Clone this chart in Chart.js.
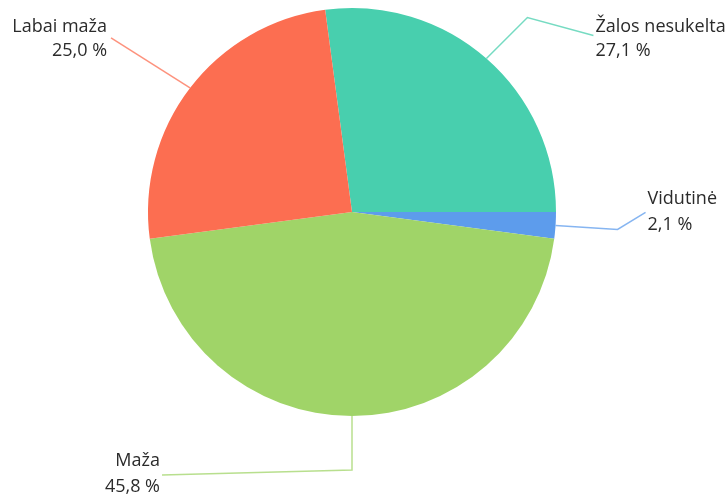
<!DOCTYPE html>
<html><head><meta charset="utf-8">
<script src="https://cdn.jsdelivr.net/npm/chart.js@4/dist/chart.umd.min.js"></script>
<style>html,body{margin:0;padding:0;background:#fff}#wrap{width:728px;height:496px}</style>
</head><body><div id="wrap"><canvas id="c" width="728" height="496"></canvas></div>
<script>
const categories = ["Žalos nesukelta", "Vidutinė", "Maža", "Labai maža"];
const values = [27.1, 2.1, 45.8, 25.0];
const valueLabels = ["27,1 %", "2,1 %", "45,8 %", "25,0 %"];
const colors = ["#48CFAE", "#5D9CEC", "#A0D468", "#FC6E51"];

// leader styling: [elbow dx, dy, end dx, dy, align, text gap, line1 baseline dy, line2 baseline dy]
const leaders = [
  [41, -41, 66, 18, "left", 2, -4, 20],
  [62, 4, 28, -17, "left", 2, -8, 18],
  [0, 54, -190, 5, "right", 2, -9, 17],
  [-79, -50, 0, 0, "right", 4, -6, 18]
];

const labelPlugin = {
  id: 'leaderLabels',
  afterDraw(chart) {
    const ctx = chart.ctx;
    const meta = chart.getDatasetMeta(0);
    ctx.save();
    ctx.font = '18px "Open Sans", sans-serif';
    ctx.textBaseline = 'alphabetic';
    meta.data.forEach((arc, i) => {
      const mid = (arc.startAngle + arc.endAngle) / 2;
      const ex = arc.x + Math.cos(mid) * arc.outerRadius;
      const ey = arc.y + Math.sin(mid) * arc.outerRadius;
      const L = leaders[i];
      const bx = ex + L[0], by = ey + L[1];
      const tx = bx + L[2], ty = by + L[3];
      ctx.strokeStyle = colors[i];
      ctx.globalAlpha = 0.75;
      ctx.lineWidth = 1.5;
      ctx.beginPath();
      ctx.moveTo(ex, ey); ctx.lineTo(bx, by); ctx.lineTo(tx, ty);
      ctx.stroke();
      ctx.globalAlpha = 1;
      ctx.fillStyle = '#2b2b2b';
      ctx.textAlign = L[4];
      const x = L[4] === 'left' ? tx + L[5] : tx - L[5];
      ctx.fillText(categories[i], x, ty + L[6]);
      ctx.fillText(valueLabels[i], x, ty + L[7]);
    });
    ctx.restore();
  }
};

new Chart(document.getElementById('c'), {
  type: 'pie',
  data: {
    labels: categories,
    datasets: [{ data: values, backgroundColor: colors, borderWidth: 0 }]
  },
  options: {
    responsive: false,
    animation: false,
    rotation: -7.56,
    layout: { padding: { left: 148, right: 172, top: 8, bottom: 80 } },
    plugins: { legend: { display: false }, tooltip: { enabled: false } }
  },
  plugins: [labelPlugin]
});
</script></body></html>
